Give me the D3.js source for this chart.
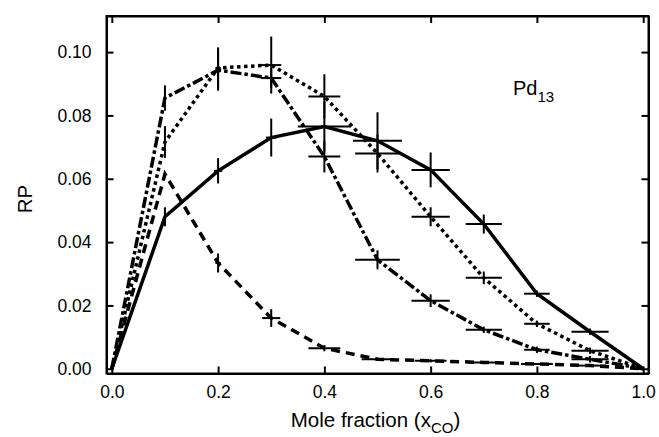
<!DOCTYPE html>
<html lang="en">
<head>
    <meta charset="UTF-8">
    <title>RP vs mole fraction, Pd13</title>
    <script src="https://d3js.org/d3.v7.min.js"></script>
    <style>
        body { margin: 0; background: #fff; }
        svg { display: block; font-family: "Liberation Sans", Arial, Helvetica, sans-serif; }
        .axis path, .axis line { stroke: #000; stroke-width: 2; }
        .axis text { font-size: 17.5px; fill: #000; }
        .series { fill: none; stroke: #000; stroke-width: 3.5; }
        .err { stroke: #000; stroke-width: 2; }
    </style>
</head>
<body>
<svg width="659" height="437"></svg>
<script>
    // x positions (mole fraction of CO)
    const moleFraction = [0.0, 0.1, 0.2, 0.3, 0.4, 0.5, 0.6, 0.7, 0.8, 0.9, 1.0];

    // RP values, one array per line style
    const solidRP   = [0, 0.0480, 0.0625, 0.0730, 0.0765, 0.0720, 0.0628, 0.0457, 0.0237, 0.0117, 0];
    const dottedRP  = [0, 0.0716, 0.0950, 0.0959, 0.0860, 0.0680, 0.0480, 0.0287, 0.0142, 0.0057, 0];
    const dashDotRP = [0, 0.0855, 0.0943, 0.0918, 0.0670, 0.0344, 0.0215, 0.0123, 0.0060, 0.0030, 0];
    const dashedRP  = [0, 0.0615, 0.0334, 0.0160, 0.0065, 0.0030, 0.0025, 0.0020, 0.0015, 0.0010, 0];

    // error bars (half widths): x error and y error
    const solidXErr   = [0, 0, 0.008, 0.010, 0.050, 0.046, 0.036, 0.034, 0.024, 0.035, 0];
    const solidYErr   = [0, 0.003, 0.004, 0.006, 0.008, 0.009, 0.0055, 0.003, 0.001, 0.001, 0];
    const dottedXErr  = [0, 0, 0.005, 0.019, 0.030, 0.042, 0.036, 0.034, 0.024, 0.035, 0];
    const dottedYErr  = [0, 0.005, 0.0065, 0.009, 0.007, 0.006, 0.003, 0.002, 0.001, 0.001, 0];
    const dashDotXErr = [0, 0, 0.005, 0.019, 0.030, 0.042, 0.036, 0.034, 0.024, 0.035, 0];
    const dashDotYErr = [0, 0.004, 0.0065, 0.003, 0.005, 0.003, 0.002, 0.001, 0.001, 0.001, 0];
    const dashedXErr  = [0, 0, 0.005, 0.017, 0.030, 0.030, 0.030, 0.030, 0.030, 0.030, 0];
    const dashedYErr  = [0, 0, 0.003, 0.0028, 0.001, 0.0005, 0.0005, 0, 0, 0, 0];

    const xTicks = [0, 0.2, 0.4, 0.6, 0.8, 1.0];
    const yTicks = [0, 0.02, 0.04, 0.06, 0.08, 0.10];

    const series = [
        { values: solidRP,   xErr: solidXErr,   yErr: solidYErr,   dash: null },
        { values: dottedRP,  xErr: dottedXErr,  yErr: dottedYErr,  dash: "3.5,3.5" },
        { values: dashDotRP, xErr: dashDotXErr, yErr: dashDotYErr, dash: "11,3,3.5,3" },
        { values: dashedRP,  xErr: dashedXErr,  yErr: dashedYErr,  dash: "9,6" }
    ];

    // plot frame
    const frameLeft = 106.5, frameRight = 648.5, frameTop = 16, frameBottom = 373.5;

    const svg = d3.select("svg");

    const x = d3.scaleLinear().domain([-0.01, 1.01]).range([frameLeft, frameRight]);
    const y = d3.scaleLinear().domain([-0.0015, 0.1114]).range([frameBottom, frameTop]);

    const tick = 7;

    // axes with inward ticks on all four sides
    svg.append("g").attr("class", "axis")
        .attr("transform", `translate(0,${frameBottom})`)
        .call(d3.axisBottom(x).tickValues(xTicks).tickFormat(d3.format(".1f"))
            .tickSizeInner(-tick).tickSizeOuter(0).tickPadding(12));
    svg.append("g").attr("class", "axis")
        .attr("transform", `translate(0,${frameTop})`)
        .call(d3.axisTop(x).tickValues(xTicks).tickFormat("")
            .tickSizeInner(-tick).tickSizeOuter(0));
    svg.append("g").attr("class", "axis")
        .attr("transform", `translate(${frameLeft},0)`)
        .call(d3.axisLeft(y).tickValues(yTicks).tickFormat(d3.format(".2f"))
            .tickSizeInner(-tick).tickSizeOuter(0).tickPadding(15));
    svg.append("g").attr("class", "axis")
        .attr("transform", `translate(${frameRight},0)`)
        .call(d3.axisRight(y).tickValues(yTicks).tickFormat("")
            .tickSizeInner(-tick).tickSizeOuter(0));

    // close the frame
    svg.append("rect")
        .attr("x", frameLeft).attr("y", frameTop)
        .attr("width", frameRight - frameLeft).attr("height", frameBottom - frameTop)
        .attr("fill", "none").attr("stroke", "#000").attr("stroke-width", 2);

    const line = d3.line()
        .x((d, i) => x(moleFraction[i]))
        .y(d => y(d));

    const plot = svg.append("g");

    series.forEach(s => {
        plot.append("path")
            .datum(s.values)
            .attr("class", "series")
            .attr("stroke-dasharray", s.dash)
            .attr("d", line);

        const pts = s.values.map((v, i) => ({ x: moleFraction[i], y: v, ex: s.xErr[i], ey: s.yErr[i] }));

        plot.selectAll(null)
            .data(pts.filter(p => p.ex > 0))
            .enter().append("line")
            .attr("class", "err")
            .attr("x1", p => x(p.x - p.ex)).attr("x2", p => x(p.x + p.ex))
            .attr("y1", p => y(p.y)).attr("y2", p => y(p.y));

        plot.selectAll(null)
            .data(pts.filter(p => p.ey > 0))
            .enter().append("line")
            .attr("class", "err")
            .attr("x1", p => x(p.x)).attr("x2", p => x(p.x))
            .attr("y1", p => y(p.y - p.ey)).attr("y2", p => y(p.y + p.ey));
    });

    // axis titles
    const xt = svg.append("text")
        .attr("x", (x(0) + x(1)) / 2 - 2).attr("y", 427)
        .attr("text-anchor", "middle")
        .style("font-size", "20.5px");
    xt.append("tspan").text("Mole fraction (x");
    xt.append("tspan").attr("dy", 6).style("font-size", "15px").text("CO");
    xt.append("tspan").attr("dy", -6).text(")");

    svg.append("text")
        .attr("transform", `translate(32,199) rotate(-90)`)
        .attr("text-anchor", "middle")
        .style("font-size", "20.5px")
        .text("RP");

    // label
    const lab = svg.append("text")
        .attr("x", 513).attr("y", 95)
        .style("font-size", "20px");
    lab.append("tspan").text("Pd");
    lab.append("tspan").attr("dy", 7).style("font-size", "15px").text("13");
</script>
</body>
</html>
